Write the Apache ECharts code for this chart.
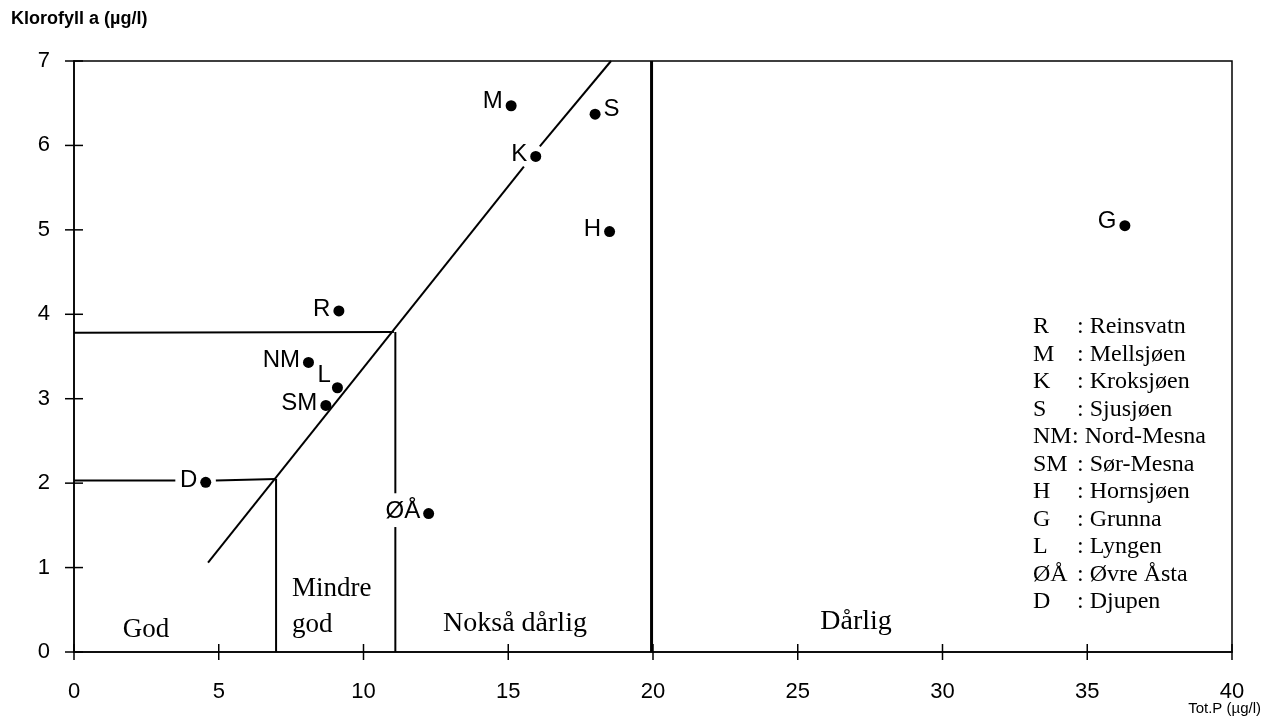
<!DOCTYPE html>
<html>
<head>
<meta charset="utf-8">
<script src="https://cdn.jsdelivr.net/npm/echarts@6/dist/echarts.min.js"></script>
<style>
html,body{margin:0;padding:0;background:#fff;}
#chart{width:1265px;height:721px;}
</style>
</head>
<body>
<div id="chart"></div>
<script>
// ---- data ----
const lakeCodes = ['R', 'M', 'K', 'S', 'NM', 'SM', 'H', 'G', 'L', 'ØÅ', 'D'];
const lakeNames = ['Reinsvatn', 'Mellsjøen', 'Kroksjøen', 'Sjusjøen', 'Nord-Mesna', 'Sør-Mesna', 'Hornsjøen', 'Grunna', 'Lyngen', 'Øvre Åsta', 'Djupen'];
const totP = [9.15, 15.1, 15.95, 18.0, 8.1, 8.7, 18.5, 36.3, 9.1, 12.25, 4.55];
const chlA = [4.04, 6.47, 5.87, 6.37, 3.43, 2.92, 4.98, 5.05, 3.13, 1.64, 2.01];

const xTicks = [0, 5, 10, 15, 20, 25, 30, 35, 40];
const yTicks = [0, 1, 2, 3, 4, 5, 6, 7];

// class boundaries (Tot.P, Klorofyll a)
const diagonalLower = [[4.63, 1.06], [15.54, 5.75]];
const diagonalUpper = [[16.09, 5.99], [18.55, 7.0]];
const godHorizA = [[0, 2.03], [3.5, 2.03]];
const godHorizB = [[4.9, 2.03], [6.98, 2.05]];
const godVert = [[6.98, 2.05], [6.98, 0]];
const mindreHoriz = [[0, 3.78], [11.05, 3.79]];
const mindreVertA = [[11.1, 3.79], [11.1, 1.88]];
const mindreVertB = [[11.1, 1.48], [11.1, 0]];
const noksaVert = [[19.95, 0], [19.95, 7]];

const zoneLabels = ['God', 'Mindre\ngod', 'Nokså dårlig', 'Dårlig'];

// ---- styling (not data) ----
const labelStyle = {
  'S': {position: 'right', offset: [0, -5]},
  'L': {position: 'left', offset: [2, -12]},
  'M': {position: 'left', offset: [0, -4]},
  'G': {position: 'left', offset: [0, -4]}
};

const chart = echarts.init(document.getElementById('chart'), null, {renderer: 'canvas'});

const sans = 'Liberation Sans, Arial, sans-serif';
const serif = 'Liberation Serif, Times New Roman, serif';

function seg(data, width) {
  return {
    type: 'line', data: data, symbol: 'none', silent: true, z: 2,
    lineStyle: {color: '#000', width: width || 2}, animation: false
  };
}

const points = lakeCodes.map((c, i) => {
  const st = labelStyle[c] || {position: 'left', offset: [0, -2]};
  return {
    value: [totP[i], chlA[i]],
    name: c,
    label: {position: st.position, offset: st.offset}
  };
});

const series = [
  seg(diagonalLower), seg(diagonalUpper),
  seg(godHorizA), seg(godHorizB), seg(godVert),
  seg(mindreHoriz), seg(mindreVertA), seg(mindreVertB),
  seg(noksaVert, 3),
  {
    type: 'custom', silent: true, z: 3, animation: false,
    data: xTicks.map(v => [v, 0]),
    renderItem: function (params, api) {
      const p = api.coord([api.value(0), 0]);
      return {type: 'line', shape: {x1: p[0], y1: p[1] - 8, x2: p[0], y2: p[1] + 8},
              style: {stroke: '#000', lineWidth: 1.5}};
    }
  },
  {
    type: 'custom', silent: true, z: 3, animation: false,
    data: yTicks.map(v => [0, v]),
    renderItem: function (params, api) {
      const p = api.coord([0, api.value(1)]);
      return {type: 'line', shape: {x1: p[0] - 9, y1: p[1], x2: p[0] + 9, y2: p[1]},
              style: {stroke: '#000', lineWidth: 1.5}};
    }
  },
  {
    type: 'scatter', z: 5, animation: false,
    symbol: 'circle', symbolSize: 11,
    itemStyle: {color: '#000', opacity: 1},
    label: {
      show: true, formatter: '{b}', color: '#000',
      fontFamily: sans, fontSize: 24, distance: 3
    },
    data: points
  }
];

const legendY0 = 327, legendStep = 27.5;
const graphics = [
  {type: 'text', left: 11, top: 10,
   style: {text: 'Klorofyll a (µg/l)', font: 'bold 18px ' + sans, fill: '#000'}},
  {type: 'text', right: 4, top: 701,
   style: {text: 'Tot.P (µg/l)', font: '15px ' + sans, fill: '#000'}},
  {type: 'text', x: 146, y: 630,
   style: {text: zoneLabels[0], font: '27px ' + serif, fill: '#000', align: 'center', verticalAlign: 'middle'}},
  {type: 'text', x: 292, y: 607,
   style: {text: zoneLabels[1], font: '27px ' + serif, fill: '#000', align: 'left', verticalAlign: 'middle', lineHeight: 36}},
  {type: 'text', x: 515, y: 624,
   style: {text: zoneLabels[2], font: '28px ' + serif, fill: '#000', align: 'center', verticalAlign: 'middle'}},
  {type: 'text', x: 856, y: 622,
   style: {text: zoneLabels[3], font: '28px ' + serif, fill: '#000', align: 'center', verticalAlign: 'middle'}}
];
lakeCodes.forEach((c, i) => {
  graphics.push({type: 'text', x: 1033, y: legendY0 + i * legendStep,
    style: {text: c, font: '24px ' + serif, fill: '#000', verticalAlign: 'middle'}});
  graphics.push({type: 'text', x: c === 'NM' ? 1072 : 1077, y: legendY0 + i * legendStep,
    style: {text: ': ' + lakeNames[i], font: '24px ' + serif, fill: '#000', verticalAlign: 'middle'}});
});

chart.setOption({
  animation: false,
  backgroundColor: '#fff',
  grid: {left: 74, right: 33, top: 61, bottom: 69, show: true, borderColor: '#000', borderWidth: 1.5},
  xAxis: {
    type: 'value', min: 0, max: 40, interval: 5,
    axisLine: {show: true, lineStyle: {color: '#000', width: 1.5}},
    axisTick: {show: false}, splitLine: {show: false},
    axisLabel: {color: '#000', fontFamily: sans, fontSize: 22, margin: 29}
  },
  yAxis: {
    type: 'value', min: 0, max: 7, interval: 1,
    axisLine: {show: true, lineStyle: {color: '#000', width: 1.5}},
    axisTick: {show: false}, splitLine: {show: false},
    axisLabel: {color: '#000', fontFamily: sans, fontSize: 22, margin: 24}
  },
  graphic: graphics,
  series: series
});
</script>
</body>
</html>
